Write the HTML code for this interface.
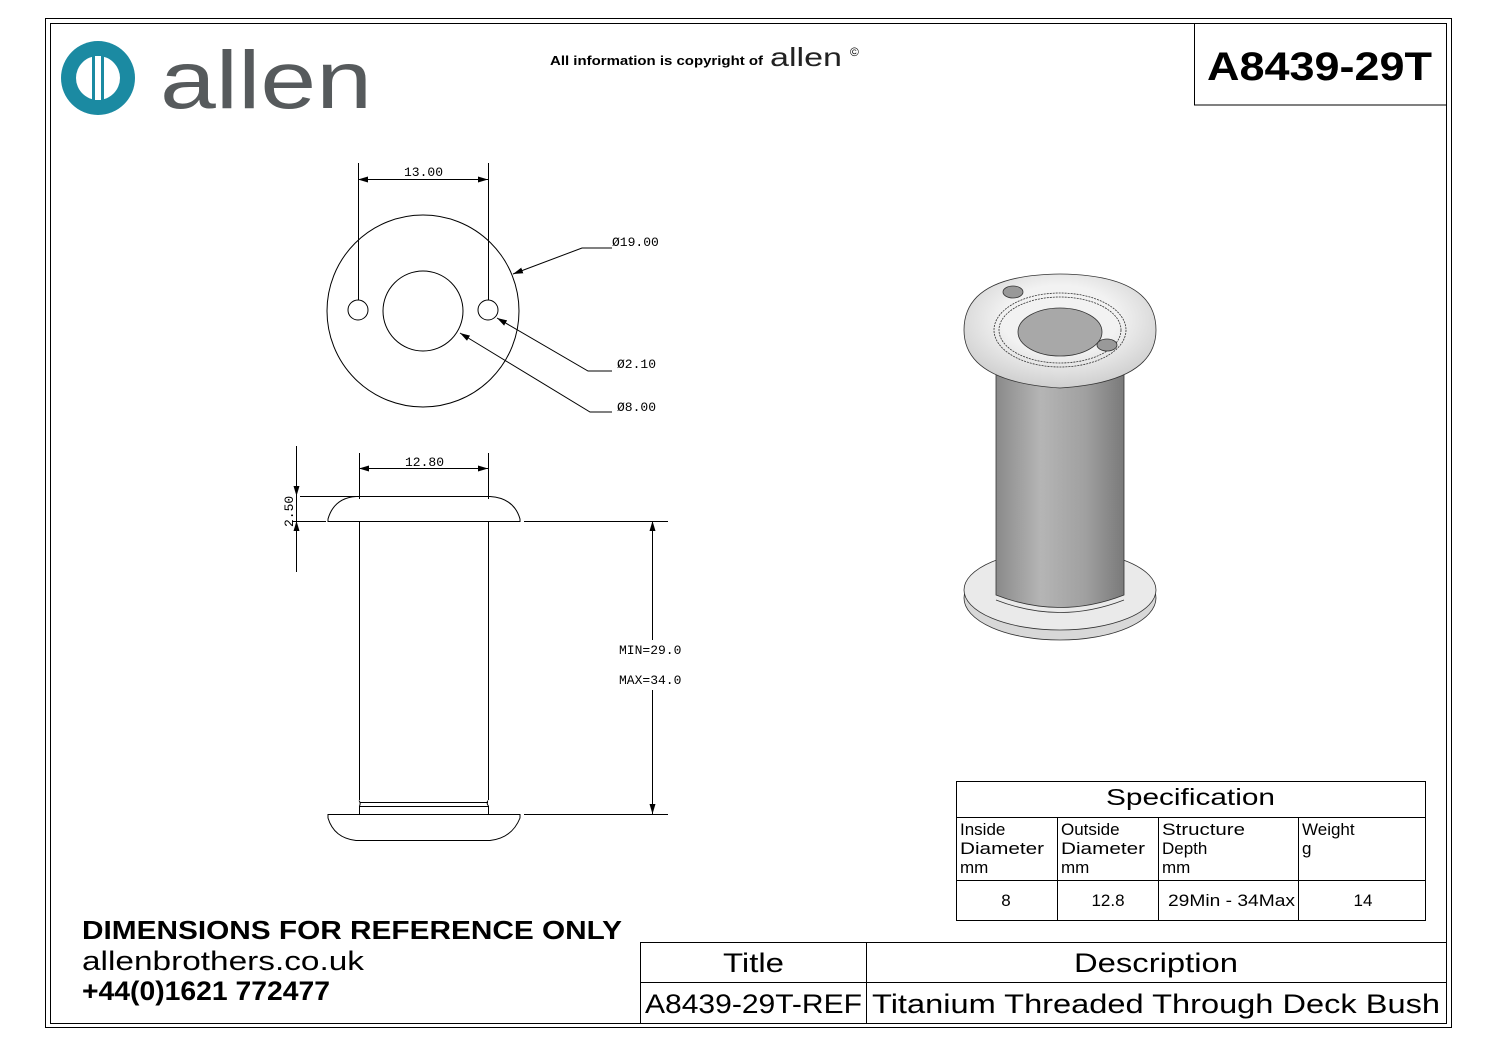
<!DOCTYPE html>
<html><head><meta charset="utf-8"><style>
body{margin:0;background:#fff;width:1497px;height:1058px;overflow:hidden}
svg{display:block}
text{font-family:"Liberation Sans",sans-serif}
.m{font-family:"Liberation Mono",monospace;font-size:13px;fill:#000}
</style></head><body>
<svg width="1497" height="1058" viewBox="0 0 1497 1058">
<defs>
<marker id="a" viewBox="0 0 10 6" refX="10" refY="3" markerWidth="10" markerHeight="6" orient="auto-start-reverse"><path d="M0,0L10,3L0,6z" fill="#000"/></marker>
<linearGradient id="cyl" x1="0" x2="1"><stop offset="0" stop-color="#8a8a8a"/><stop offset=".35" stop-color="#b5b5b5"/><stop offset=".7" stop-color="#a0a0a0"/><stop offset="1" stop-color="#7a7a7a"/></linearGradient>
<radialGradient id="top" cx=".5" cy=".4" r=".6"><stop offset=".5" stop-color="#f2f2f2"/><stop offset="1" stop-color="#cfcfcf"/></radialGradient>
</defs>
<g fill="none" stroke="#000" stroke-width="1">
<rect x="45.5" y="18.5" width="1406" height="1009"/>
<rect x="50.5" y="23.5" width="1396" height="1000"/>
<path d="M1194.5 23v82H1446"/>
<rect x="956.5" y="781.5" width="469" height="139"/>
<path d="M956 817.5H1425M956 880.5H1425M1057.5 817v103M1158.5 817v103M1298.5 817v103"/>
<path d="M640.5 1023V942.5H1446M640 982.5H1446M866.5 942v81"/>
<circle cx="423" cy="311" r="96"/>
<circle cx="423" cy="311" r="40"/>
<circle cx="358" cy="310" r="10"/>
<circle cx="488" cy="310" r="10"/>
<path d="M358.5 163v137M488.5 163v137"/>
<path d="M358 179.5H488" marker-start="url(#a)" marker-end="url(#a)"/>
<path d="M612 248H582L513 274" marker-end="url(#a)"/>
<path d="M612 371H588L497 318" marker-end="url(#a)"/>
<path d="M612 412H590L460 333" marker-end="url(#a)"/>
<path d="M359.5 453v46M488.5 453v46"/>
<path d="M359 468.5H488" marker-start="url(#a)" marker-end="url(#a)"/>
<path d="M328 521.5H520L520 519Q514 498 490 496.5H356Q334 498 328 519Z"/>
<path d="M359.5 521V800M488.5 521V800"/>
<path d="M359 800.5Q361 803 359.5 806M488 800.5Q486 803 488.5 806M360 802.5H488M360 806.5H488M359.5 806v8M488.5 806v8"/>
<path d="M328 814.5H520V818Q512 838 490 840.5H356Q334 838 328 818Z"/>
<path d="M296.5 446V572"/>
<path d="M296.5 470V496" marker-end="url(#a)"/>
<path d="M296.5 545V521" marker-end="url(#a)"/>
<path d="M300 496.5H356M292 521.5H326M524 521.5H668M524 814.5H668"/>
<path d="M652.5 521V640" marker-start="url(#a)"/>
<path d="M652.5 690V814" marker-end="url(#a)"/>
</g>
<text class="m" x="404" y="176">13.00</text>
<text class="m" x="612" y="246">Ø19.00</text>
<text class="m" x="617" y="368">Ø2.10</text>
<text class="m" x="617" y="411">Ø8.00</text>
<text class="m" x="405" y="466">12.80</text>
<text class="m" transform="translate(293 527) rotate(-90)">2.50</text>
<text class="m" x="619" y="654">MIN=29.0</text>
<text class="m" x="619" y="684">MAX=34.0</text>
<g stroke="#333" stroke-width="0.8">
<ellipse cx="1060" cy="598" rx="96" ry="42" fill="#d8d8d8"/>
<ellipse cx="1060" cy="590" rx="96" ry="40" fill="#eaeaea"/>
<path d="M996 370V595Q1060 620 1124 595V370Z" fill="url(#cyl)"/>
<path d="M996 600Q1060 625 1124 600" fill="none"/>
<path d="M964 330Q964 275 1060 274Q1156 275 1156 330Q1156 382 1060 388Q964 382 964 330Z" fill="url(#top)"/>
<ellipse cx="1060" cy="330" rx="66" ry="37" fill="none" stroke-dasharray="2 1"/>
<ellipse cx="1060" cy="330" rx="61" ry="33" fill="none" stroke-dasharray="2 1"/>
<ellipse cx="1060" cy="332" rx="42" ry="24" fill="#a8a8a8"/>
<ellipse cx="1013" cy="292" rx="10" ry="6" fill="#999"/>
<ellipse cx="1107" cy="345" rx="10" ry="6" fill="#999"/>
</g>
<circle cx="98" cy="78" r="37" fill="#1b8aa2"/>
<circle cx="98" cy="78" r="22" fill="#fff"/>
<rect x="92" y="54" width="12" height="48" fill="#1b8aa2"/>
<rect x="95" y="56" width="6" height="44" fill="#fff"/>
<text x="160" y="108" font-size="82" fill="#565a5c" textLength="212" lengthAdjust="spacingAndGlyphs">allen</text>
<text x="550" y="65" font-size="13" font-weight="bold" textLength="213" lengthAdjust="spacingAndGlyphs">All information is copyright of</text>
<text x="770" y="66" font-size="26" fill="#222" textLength="72" lengthAdjust="spacingAndGlyphs">allen</text>
<text x="850" y="56" font-size="12">©</text>
<text x="1207" y="80" font-size="40" font-weight="bold" textLength="225" lengthAdjust="spacingAndGlyphs">A8439-29T</text>
<text x="1106" y="805" font-size="23" textLength="169" lengthAdjust="spacingAndGlyphs">Specification</text>
<g font-size="17">
<text x="960" y="835">Inside</text><text x="960" y="854" textLength="84" lengthAdjust="spacingAndGlyphs">Diameter</text><text x="960" y="873">mm</text>
<text x="1061" y="835">Outside</text><text x="1061" y="854" textLength="84" lengthAdjust="spacingAndGlyphs">Diameter</text><text x="1061" y="873">mm</text>
<text x="1162" y="835" textLength="83" lengthAdjust="spacingAndGlyphs">Structure</text><text x="1162" y="854">Depth</text><text x="1162" y="873">mm</text>
<text x="1302" y="835">Weight</text><text x="1302" y="854">g</text>
<text x="1006" y="906" text-anchor="middle">8</text>
<text x="1108" y="906" text-anchor="middle">12.8</text>
<text x="1168" y="906" textLength="127" lengthAdjust="spacingAndGlyphs">29Min - 34Max</text>
<text x="1363" y="906" text-anchor="middle">14</text>
</g>
<text x="82" y="939" font-size="26" font-weight="bold" textLength="540" lengthAdjust="spacingAndGlyphs">DIMENSIONS FOR REFERENCE ONLY</text>
<text x="82" y="970" font-size="27" textLength="282" lengthAdjust="spacingAndGlyphs">allenbrothers.co.uk</text>
<text x="82" y="1000" font-size="27" font-weight="bold" textLength="248" lengthAdjust="spacingAndGlyphs">+44(0)1621 772477</text>
<text x="723" y="972" font-size="27" textLength="61" lengthAdjust="spacingAndGlyphs">Title</text>
<text x="1074" y="972" font-size="27" textLength="164" lengthAdjust="spacingAndGlyphs">Description</text>
<text x="645" y="1013" font-size="27" textLength="217" lengthAdjust="spacingAndGlyphs">A8439-29T-REF</text>
<text x="872" y="1013" font-size="27" textLength="568" lengthAdjust="spacingAndGlyphs">Titanium Threaded Through Deck Bush</text>
</svg>
</body></html>
